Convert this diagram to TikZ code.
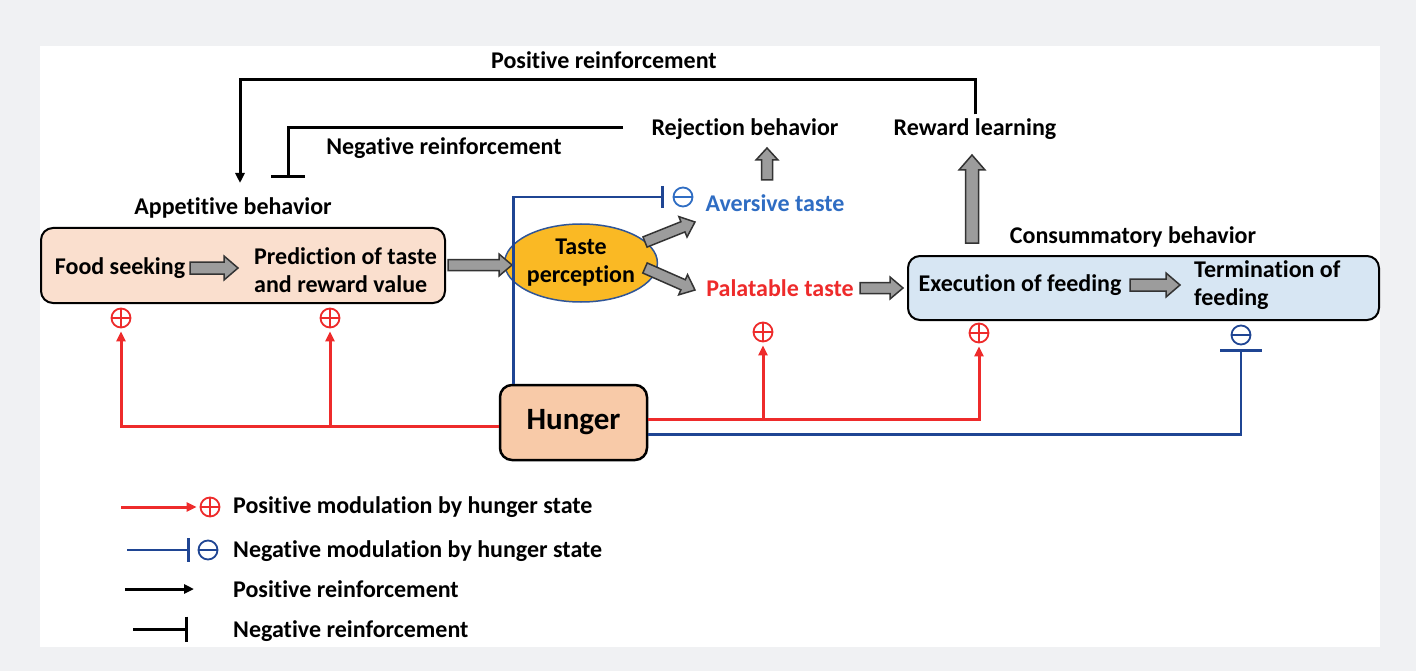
\documentclass[tikz,border=0pt]{standalone}
\usepackage{fontspec}
\setmainfont{Carlito}[RawFeature={-liga}]
\usetikzlibrary{calc,arrows.meta,shapes.geometric}
\definecolor{bggray}{HTML}{F0F1F3}
\definecolor{redc}{HTML}{EE2B2B}
\definecolor{navy}{HTML}{1F4593}
\definecolor{avblue}{HTML}{2F6DC3}
\definecolor{peach}{HTML}{FADFCE}
\definecolor{hungerc}{HTML}{F8CAA8}
\definecolor{lblue}{HTML}{D7E6F3}
\definecolor{tasteor}{HTML}{FAB924}
\definecolor{ellblue}{HTML}{2F5597}
\definecolor{arrgray}{HTML}{9C9C9C}
\newcommand\garrow[4]{%
  \path ($(#2)!#4!(#1)$) coordinate (gac);
  \filldraw[garr] ($(#1)!#3!90:(#2)$) -- ($(gac)!#3!90:(#2)$) -- ($(gac)!2*#3!90:(#2)$) -- (#2)
    -- ($(gac)!2*#3!-90:(#2)$) -- ($(gac)!#3!-90:(#2)$) -- ($(#1)!#3!-90:(#2)$) -- cycle;}
\tikzset{
  lab/.style={inner sep=0pt, font=\fontsize{24}{28}\selectfont\bfseries},
  blk/.style={draw=black, line width=3pt},
  redl/.style={draw=redc, line width=3pt},
  bluel/.style={draw=navy, line width=2.6pt},
  tip/.style={-{Triangle[length=10pt,width=9pt]}},
  garr/.style={fill=arrgray, draw=black!80, line width=1.5pt, line join=miter},
  rbox/.style={rounded corners=12pt, draw=black, line width=2pt, inner sep=0pt},
  plusm/.style={circle, draw=redc, line width=1.8pt, minimum size=19pt, inner sep=0pt,
    path picture={\draw[redc,line width=1.8pt] (path picture bounding box.north) -- (path picture bounding box.south)
      (path picture bounding box.west) -- (path picture bounding box.east);}},
  minusm/.style={circle, draw=#1, line width=1.8pt, minimum size=19pt, inner sep=0pt,
    path picture={\draw[#1,line width=1.8pt] (path picture bounding box.west) -- (path picture bounding box.east);}},
}
\begin{document}
\begin{tikzpicture}[x=1pt,y=-1pt]
\fill[bggray] (0,0) rectangle (1416,671);
\fill[white] (40,46) rectangle (1380,647);
\useasboundingbox (0,0) rectangle (1416,671);

% boxes
\node[rbox, fill=peach, minimum width=404pt, minimum height=75pt] (app) at (243,265.5) {};
\node[rbox, fill=lblue, minimum width=471pt, minimum height=64pt] (cons) at (1143.5,288) {};
\node[rbox, fill=hungerc, line width=2.5pt, minimum width=147pt, minimum height=75pt,
  font=\fontsize{31}{36}\selectfont\bfseries] (hunger) at (573.5,422.5) {Hunger};
\node[ellipse, fill=tasteor, draw=ellblue, line width=1.5pt, minimum width=116pt, minimum height=78pt,
  inner sep=0pt, align=center, font=\fontsize{24}{28}\selectfont\bfseries] (taste) at (581,263) {Taste\\perception};

% labels
\node[lab] (posr) at (604,60) {Positive reinforcement};
\node[lab] (rej) at (745,129) {Rejection behavior};
\node[lab] (reward) at (975,129) {Reward learning};
\node[lab] (negr) at (444,148) {Negative reinforcement};
\node[lab] (appl) at (233,208) {Appetitive behavior};
\node[lab, text=avblue] (avers) at (775,203) {Aversive taste};
\node[lab, text=redc] (palat) at (780,288) {Palatable taste};
\node[lab] (consl) at (1133,237) {Consummatory behavior};
\node[lab] (food) at (120,268) {Food seeking};
\node[lab, anchor=west, align=left] (pred) at (254,270) {Prediction of taste\\and reward value};
\node[lab] (exec) at (1020,285) {Execution of feeding};
\node[lab, anchor=west, align=left] (term) at (1194,285) {Termination of\\feeding};

% modulation marks
\node[plusm] (pa1) at (121,318) {};
\node[plusm] (pa2) at (330,318) {};
\node[plusm] (pc1) at (763,332) {};
\node[plusm] (pc2) at (979,333) {};
\node[minusm=navy] (tm) at (1241,335) {};
\node[minusm=avblue] (avm) at (683,197) {};

% gray block arrows
\coordinate (g1a) at (190,268); \coordinate (g1b) at (238,268);
\coordinate (g2a) at (448,265); \coordinate (g2b) at (512,265);
\coordinate (g3a) at (645,242); \coordinate (g3b) at (695,222);
\coordinate (g4a) at (645,268); \coordinate (g4b) at (695,290);
\coordinate (g5a) at (860,288); \coordinate (g5b) at (903,288);
\coordinate (g6a) at (1130,285); \coordinate (g6b) at (1180,285);
\coordinate (g7a) at (767,180); \coordinate (g7b) at (767,148);
\coordinate (g8a) at (972,243); \coordinate (g8b) at (972,155);
\garrow{g1a}{g1b}{6pt}{14pt}
\garrow{g2a}{g2b}{5.5pt}{13pt}
\garrow{g3a}{g3b}{5.5pt}{13pt}
\garrow{g4a}{g4b}{5.5pt}{13pt}
\garrow{g5a}{g5b}{5.5pt}{13pt}
\garrow{g6a}{g6b}{6pt}{14pt}
\garrow{g7a}{g7b}{5.5pt}{12pt}
\garrow{g8a}{g8b}{6.5pt}{15pt}

% reinforcement lines
\coordinate (prtop) at (240,80);
\coordinate (prtip) at (240,183);
\draw[blk, tip, line join=miter] ([yshift=4pt]reward.north) |- (prtop) -- (prtip);
\coordinate (nrs) at (623,128);
\coordinate (nre) at (288,178);
\draw[blk, -{Bar[width=34pt]}, line join=miter] (nrs) -| (nre);

% hunger modulation
\coordinate (redL) at ([yshift=-4pt]hunger.west);
\coordinate (redR) at ([yshift=3pt]hunger.east);
\coordinate (bluR) at ([yshift=-12pt]hunger.east);
\coordinate (bluT) at ([xshift=15pt]hunger.north west);
\draw[redl, tip, line join=miter, shorten >=3pt] (redL) -| (pa1.south);
\draw[redl, tip, shorten >=3pt] (pa2.south |- redL) -- (pa2.south);
\draw[redl, tip, line join=miter, shorten >=3pt] (redR) -| (pc2.south);
\draw[redl, tip, shorten >=3pt] (pc1.south |- redR) -- (pc1.south);
\draw[bluel, -{Bar[width=42pt]}, line join=miter, shorten >=4pt] (bluR) -| (tm.south);
\draw[bluel, -{Bar[width=22pt]}, line join=miter, shorten >=9pt] (bluT) |- (avm.west);

% legend
\node[plusm] (lp) at (210,507) {};
\node[minusm=navy] (lm) at (208,550) {};
\node[lab, anchor=west] (lt1) at (233,507) {Positive modulation by hunger state};
\node[lab, anchor=west] (lt2) at (233,551) {Negative modulation by hunger state};
\node[lab, anchor=west] (lt3) at (233,589) {Positive reinforcement};
\node[lab, anchor=west] (lt4) at (233,631) {Negative reinforcement};
\coordinate (l1s) at (121,507);
\coordinate (l2s) at (127,550);
\coordinate (l3s) at (125,589); \coordinate (l3e) at (194,589);
\coordinate (l4s) at (133,629); \coordinate (l4e) at (188,629);
\draw[redl, tip, shorten >=3pt] (l1s) -- (lp.west);
\draw[bluel, -{Bar[width=24pt]}, shorten >=8pt] (l2s) -- (lm.west);
\draw[blk, tip] (l3s) -- (l3e);
\draw[blk, -{Bar[width=25pt]}] (l4s) -- (l4e);
\end{tikzpicture}
\end{document}
